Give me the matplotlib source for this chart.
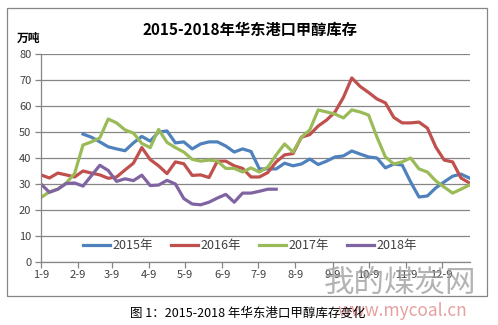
import matplotlib
matplotlib.use("Agg")
import matplotlib.pyplot as plt
import numpy as np
import pandas as pd
from matplotlib.patches import Rectangle

plt.rcParams['font.family'] = ['Noto Sans CJK SC', 'DejaVu Sans']

# weekly data, first week = 1-9
s2015 = [None, None, None, None, None,
         49.2, 48, 46.2, 44.3, 43.5, 42.8, 45.8, 48.3, 46.5, 50, 50.4, 45.8, 46.2, 43.5, 45.4,
         46.2, 46.2, 44.6, 42.3, 43.5, 42.5, 35.8, 35.8, 35.8, 38, 37, 37.7, 39.6, 37.5, 38.8,
         40.4, 40.8, 42.7, 41.5, 40.4, 40, 36.2, 37.7, 37.3, 30.8, 25, 25.4, 28.5, 30.8, 33,
         33.8, 32.3]
s2016 = [33.5, 32.3, 34.2, 33.5, 32.7, 35, 34.2, 33.5, 32.2, 32.7, 35.4, 38, 44, 39.4, 37,
         34, 38.5, 37.8, 33.3, 33.5, 32.5, 38.8, 38.8, 37, 36, 32.7, 32.7, 34.4, 38.5, 41.2,
         41.7, 48, 49, 52.3, 54.6, 57.7, 63.3, 70.8, 67.5, 65.2, 62.7, 61.2, 55.6, 53.5, 53.5,
         53.8, 51.5, 44.2, 39.2, 38.5, 32.3, 30.4]
s2017 = [24.8, 27, 28, 30.4, 34, 45, 46.2, 47.7, 55, 53.5, 50.8, 49.6, 45.6, 44, 51, 46, 44,
         42.3, 39.5, 38.8, 39.2, 38.8, 36, 36, 34.6, 36.2, 34.6, 36.5, 41.2, 45.4, 42.3, 48,
         50.8, 58.5, 57.7, 56.9, 55.4, 58.5, 57.7, 56.5, 48, 40.4, 37.7, 38.5, 40, 35.8, 34.6,
         31.2, 28.8, 26.5, 28, 29.6]
s2018 = [30, 26.8, 28, 30.2, 30.4, 29.2, 33.2, 37.2, 35.2, 31, 32, 31.3, 33.4, 29.4, 29.6,
         31.4, 30, 24.4, 22.3, 22, 23, 24.6, 26, 23, 26.5, 26.5, 27.2, 28, 28]

series = [('2015年', s2015, '#4F81BD'), ('2016年', s2016, '#C0504D'),
          ('2017年', s2017, '#9BBB59'), ('2018年', s2018, '#8064A2')]

tick_labels = ['1-9', '2-9', '3-9', '4-9', '5-9', '6-9', '7-9', '8-9', '9-9', '10-9', '11-9', '12-9']
start = pd.Timestamp('2015-01-09')
tick_pos = [(pd.Timestamp(f'2015-{m}-09') - start).days for m in range(1, 13)]

fig = plt.figure(figsize=(4.98, 3.25), dpi=100)
ax = fig.add_axes([41 / 498, 1 - 262 / 325, 429 / 498, 208 / 325])

for name, vals, c in series:
    y = np.array([np.nan if v is None else v for v in vals], dtype=float)
    x = np.arange(len(y)) * 7
    ax.plot(x, y, color=c, lw=2.3, label=name, solid_joinstyle='round')

ax.set_xlim(0, 357.5)
ax.set_ylim(0, 80)
ax.set_yticks(range(0, 81, 10))
ax.set_xticks(tick_pos)
ax.set_xticklabels(tick_labels)
ax.grid(axis='y', color='#868686', lw=0.9)
ax.set_axisbelow(True)
for sp in ['top', 'right']:
    ax.spines[sp].set_visible(False)
for sp in ['left', 'bottom']:
    ax.spines[sp].set_color('#868686')
    ax.spines[sp].set_linewidth(0.9)
ax.tick_params(axis='both', colors='#868686', labelcolor='#404040', labelsize=8, length=4, width=0.9)
ax.tick_params(axis='y', pad=3)
ax.tick_params(axis='x', pad=2)

ax.legend(loc='center', bbox_to_anchor=(0.487, 0.077), ncol=4, frameon=False, fontsize=9,
          handlelength=2.2, handletextpad=0.2, columnspacing=1.4, labelcolor='#404040')

fig.text(250 / 498, 1 - 30 / 325, '2015-2018年华东港口甲醇库存', ha='center', va='center',
         fontsize=11, fontweight='bold')
fig.text(17 / 498, 1 - 38 / 325, '万吨', ha='left', va='center', fontsize=8.5, fontweight='bold')

fig.patches.append(Rectangle((7 / 498, 1 - 296 / 325), 480 / 498, 288 / 325, transform=fig.transFigure,
                             fill=False, edgecolor='#868686', lw=0.9))

# watermark
fig.text(400 / 498, 1 - 283 / 325, '我的煤炭网', ha='center', va='center', fontsize=22,
         color='#9a9a9a', alpha=0.75)
fig.text(402 / 498, 1 - 311 / 325, 'www.mycoal.cn', ha='center', va='center', fontsize=12.5,
         color='#e08080', alpha=0.75)

fig.text(248 / 498, 1 - 313 / 325, '图 1：2015-2018 年华东港口甲醇库存变化', ha='center', va='center',
         fontsize=9)

fig.savefig('out.png', dpi=100)
